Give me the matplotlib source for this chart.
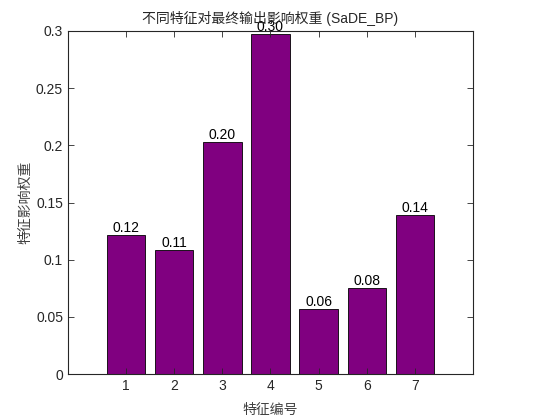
import matplotlib
matplotlib.use("Agg")
import matplotlib.pyplot as plt

plt.rcParams['font.family'] = ['Liberation Sans', 'Noto Sans CJK SC', 'DejaVu Sans']

features = [1, 2, 3, 4, 5, 6, 7]
weights = [0.1215, 0.1085, 0.2025, 0.2975, 0.0565, 0.0755, 0.1395]
y_ticks = [0, 0.05, 0.1, 0.15, 0.2, 0.25, 0.3]
y_tick_labels = ["0", "0.05", "0.1", "0.15", "0.2", "0.25", "0.3"]


def make_graph():
    fig = plt.figure(figsize=(5.6, 4.2), dpi=100)
    ax = fig.add_axes([0.1214, 0.1095, 0.7232, 0.8167])

    bars = ax.bar(features, weights, width=0.8, color="#800080",
                  edgecolor="black", linewidth=0.6)
    for b, w in zip(bars, weights):
        ax.text(b.get_x() + b.get_width() / 2, w, f"{w:.2f}",
                ha="center", va="bottom", fontsize=10, color="black")

    ax.set_xlim(-0.2, 8.2)
    ax.set_ylim(0, 0.3)
    ax.set_xticks(features)
    ax.set_yticks(y_ticks)
    ax.set_yticklabels(y_tick_labels)
    ax.tick_params(direction="in", top=True, right=True, labelsize=10,
                   colors="#262626", length=4, width=0.6)
    for s in ax.spines.values():
        s.set_linewidth(0.8)
        s.set_color("#262626")

    ax.set_title("不同特征对最终输出影响权重 (SaDE_BP)", fontsize=10,
                 color="#262626", pad=6)
    ax.set_xlabel("特征编号", fontsize=10, color="#404040", labelpad=7)
    ax.set_ylabel("特征影响权重", fontsize=10, color="#404040", labelpad=3)

    fig.savefig("out.png", dpi=100)


def main():
    make_graph()


if __name__ == "__main__":
    main()
